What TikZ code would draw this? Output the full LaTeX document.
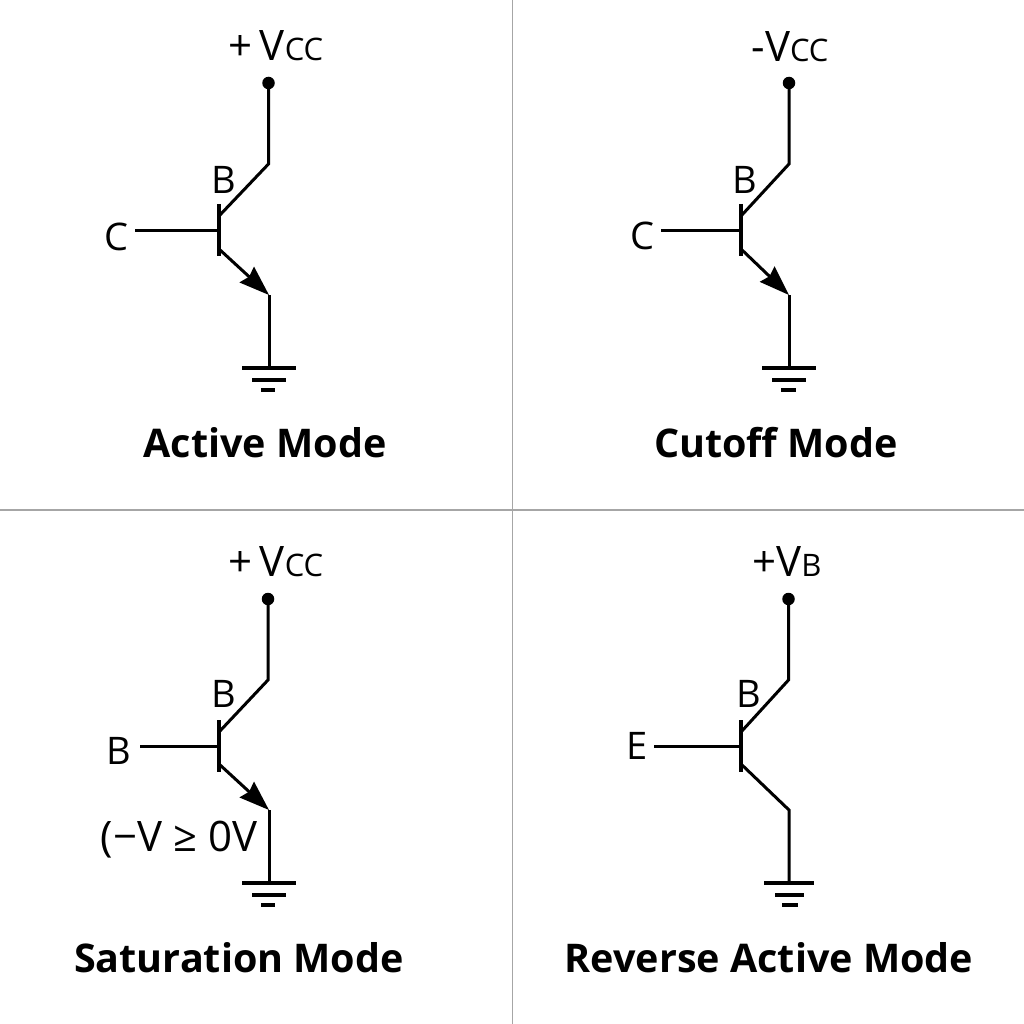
\documentclass[tikz,border=0pt]{standalone}
\usepackage{fontspec}
\setmainfont{Open Sans}
\usetikzlibrary{arrows.meta}
\newcommand{\subfont}{\fontsize{31}{31}\selectfont}
\newcommand{\supfont}{\fontsize{42}{42}\selectfont}
\tikzset{
  wire/.style={line width=3pt,line join=miter},
  bar/.style={line width=3.4pt},
  gndline/.style={line width=3.2pt},
  emit/.style={wire,-{Stealth[length=30pt,width=21pt,inset=3pt]}},
  lbl/.style={inner sep=0pt,font=\fontsize{38}{38}\selectfont},
  vlbl/.style={inner sep=0pt,font=\supfont},
  title/.style={inner sep=0pt,font=\fontsize{39.5}{39.5}\selectfont\bfseries},
  dot/.style={circle,fill=black,inner sep=0pt,minimum size=12.5pt},
  frame/.style={line width=1.2pt,draw=black!35},
}
\begin{document}
\begin{tikzpicture}[x=1pt,y=-1pt]
  \useasboundingbox (0,0) rectangle (1024,1024);
  \coordinate (ft) at (512.5,0);
  \coordinate (fb) at (512.5,1024);
  \coordinate (fl) at (0,510);
  \coordinate (fr) at (1024,510);
  \draw[frame] (ft) -- (fb);
  \draw[frame] (fl) -- (fr);
  % Active
  \node[dot] (s1) at (268.5,83) {};
  \coordinate (k1) at (268.5,164);
  \coordinate (c1) at (219,216);
  \coordinate (bt1) at (219,204);
  \coordinate (bb1) at (219,256);
  \coordinate (bm1) at (219,231);
  \coordinate (w1) at (135,231);
  \coordinate (a1) at (219,249);
  \coordinate (e1) at (269,295);
  \coordinate (g1) at (269,368);
  \coordinate (ga1) at (242,368);
  \coordinate (gb1) at (296,368);
  \coordinate (gc1) at (252,380);
  \coordinate (gd1) at (286,380);
  \coordinate (ge1) at (261,390);
  \coordinate (gf1) at (275,390);
  \node[lbl] (in1) at (116,237) {C};
  \node[lbl] (b1) at (224,180) {B};
  \node[vlbl] (v1) at (276,46) {+\,V{\subfont CC}};
  \node[title] (t1) at (265,443) {Active Mode};
  \draw[wire] (s1.center) -- (k1) -- (c1);
  \draw[bar] (bt1) -- (bb1);
  \draw[wire] (w1) -- (bm1);
  \draw[emit] (a1) -- (e1);
  \draw[wire] (e1) -- (g1);
  \draw[gndline] (ga1) -- (gb1);
  \draw[gndline] (gc1) -- (gd1);
  \draw[gndline] (ge1) -- (gf1);
  % Cutoff
  \node[dot] (s2) at (789,83) {};
  \coordinate (k2) at (789,164);
  \coordinate (c2) at (741,216);
  \coordinate (bt2) at (741,204);
  \coordinate (bb2) at (741,256);
  \coordinate (bm2) at (741,231);
  \coordinate (w2) at (661,231);
  \coordinate (a2) at (741,249);
  \coordinate (e2) at (789,295);
  \coordinate (g2) at (789,368);
  \coordinate (ga2) at (762,368);
  \coordinate (gb2) at (816,368);
  \coordinate (gc2) at (772,380);
  \coordinate (gd2) at (806,380);
  \coordinate (ge2) at (781,390);
  \coordinate (gf2) at (796,390);
  \node[lbl] (in2) at (642,236) {C};
  \node[lbl] (b2) at (745,180) {B};
  \node[vlbl] (v2) at (790,47) {-V{\subfont CC}};
  \node[title] (t2) at (776,443) {Cutoff Mode};
  \draw[wire] (s2.center) -- (k2) -- (c2);
  \draw[bar] (bt2) -- (bb2);
  \draw[wire] (w2) -- (bm2);
  \draw[emit] (a2) -- (e2);
  \draw[wire] (e2) -- (g2);
  \draw[gndline] (ga2) -- (gb2);
  \draw[gndline] (gc2) -- (gd2);
  \draw[gndline] (ge2) -- (gf2);
  % Saturation
  \node[dot] (s3) at (268,599) {};
  \coordinate (k3) at (268,680);
  \coordinate (c3) at (219,732);
  \coordinate (bt3) at (219,720);
  \coordinate (bb3) at (219,772);
  \coordinate (bm3) at (219,746);
  \coordinate (w3) at (140,746);
  \coordinate (a3) at (219,764);
  \coordinate (e3) at (269,810);
  \coordinate (g3) at (269,883);
  \coordinate (ga3) at (242,883);
  \coordinate (gb3) at (296,883);
  \coordinate (gc3) at (252,895);
  \coordinate (gd3) at (286,895);
  \coordinate (ge3) at (261,905);
  \coordinate (gf3) at (275,905);
  \node[lbl] (in3) at (119,751) {B};
  \node[lbl] (b3) at (224,694) {B};
  \node[vlbl] (v3) at (276,562) {+\,V{\subfont CC}};
  \node[vlbl] (r3) at (179,840) {(−V ≥ 0V};
  \node[title] (t3) at (239,958) {Saturation Mode};
  \draw[wire] (s3.center) -- (k3) -- (c3);
  \draw[bar] (bt3) -- (bb3);
  \draw[wire] (w3) -- (bm3);
  \draw[emit] (a3) -- (e3);
  \draw[wire] (e3) -- (g3);
  \draw[gndline] (ga3) -- (gb3);
  \draw[gndline] (gc3) -- (gd3);
  \draw[gndline] (ge3) -- (gf3);
  % Reverse active
  \node[dot] (s4) at (788.5,599) {};
  \coordinate (k4) at (788.5,680);
  \coordinate (c4) at (741,732);
  \coordinate (bt4) at (741,720);
  \coordinate (bb4) at (741,772);
  \coordinate (bm4) at (741,746);
  \coordinate (w4) at (654,746);
  \coordinate (a4) at (741,764);
  \coordinate (e4) at (789,810);
  \coordinate (g4) at (789,883);
  \coordinate (ga4) at (764,883);
  \coordinate (gb4) at (814,883);
  \coordinate (gc4) at (775,895);
  \coordinate (gd4) at (804,895);
  \coordinate (ge4) at (782,905);
  \coordinate (gf4) at (798,905);
  \node[lbl] (in4) at (637,746) {E};
  \node[lbl] (b4) at (749,694) {B};
  \node[vlbl] (v4) at (787,562) {+V{\subfont B}};
  \node[title] (t4) at (769,958) {Reverse Active Mode};
  \draw[wire] (s4.center) -- (k4) -- (c4);
  \draw[bar] (bt4) -- (bb4);
  \draw[wire] (w4) -- (bm4);
  \draw[wire] (a4) -- (e4) -- (g4);
  \draw[gndline] (ga4) -- (gb4);
  \draw[gndline] (gc4) -- (gd4);
  \draw[gndline] (ge4) -- (gf4);
\end{tikzpicture}
\end{document}
